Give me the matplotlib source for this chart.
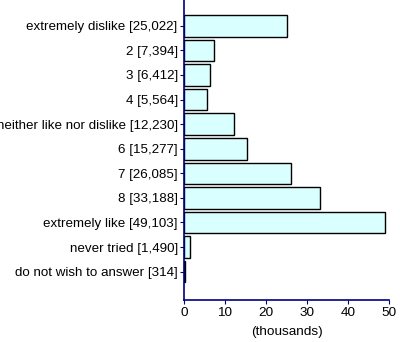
import matplotlib.pyplot as plt

plt.rcParams["font.family"] = ["Liberation Sans", "DejaVu Sans"]

categories = ["extremely dislike", "2", "3", "4", "neither like nor dislike",
              "6", "7", "8", "extremely like", "never tried",
              "do not wish to answer"]
counts = [25022, 7394, 6412, 5564, 12230, 15277, 26085, 33188, 49103, 1490, 314]

labels = ["%s [%s]" % (c, format(n, ",")) for c, n in zip(categories, counts)]
values = [n / 1000 for n in counts]

fig = plt.figure(figsize=(4, 3.42), dpi=100)
ax = fig.add_axes([0.46, 0.123, 0.5125, 0.877])

ypos = list(range(len(categories)))
ax.barh(ypos, values, height=0.88, color="#d9ffff", edgecolor="black", linewidth=1)

ax.set_yticks(ypos)
ax.set_yticklabels(labels, fontsize=9.6)
ax.set_ylim(11.15, -1.05)
ax.set_xlim(0, 50)
ax.set_xticks([0, 10, 20, 30, 40, 50])
ax.tick_params(axis="x", labelsize=9.7, length=3, color="navy", pad=2)
ax.tick_params(axis="y", length=3, color="navy", pad=1.5)
ax.set_xlabel("(thousands)", fontsize=9.7, labelpad=5)

for side in ["top", "right"]:
    ax.spines[side].set_visible(False)
for side in ["left", "bottom"]:
    ax.spines[side].set_color("navy")
    ax.spines[side].set_linewidth(1.2)

fig.savefig("out.png", dpi=100)
